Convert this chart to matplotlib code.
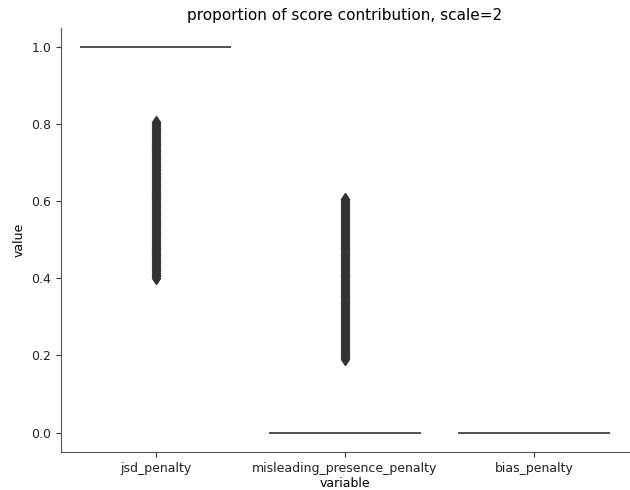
import matplotlib.pyplot as plt
import pandas as pd

# share of each penalty in the final score
variables = ["jsd_penalty", "misleading_presence_penalty", "bias_penalty"]

# most rows sit on a single value; the rest spread out as outliers
jsd_main = [1.0] * 400
jsd_spread = [0.400, 0.405, 0.410, 0.415, 0.420, 0.425, 0.430, 0.435, 0.440, 0.445,
              0.450, 0.455, 0.460, 0.465, 0.470, 0.475, 0.480, 0.485, 0.490, 0.495,
              0.500, 0.505, 0.510, 0.515, 0.520, 0.525, 0.530, 0.535, 0.540, 0.545,
              0.550, 0.555, 0.560, 0.565, 0.570, 0.575, 0.580, 0.585, 0.590, 0.595,
              0.600, 0.605, 0.610, 0.615, 0.620, 0.625, 0.630, 0.635, 0.640, 0.645,
              0.650, 0.655, 0.660, 0.665, 0.670, 0.675, 0.680, 0.685, 0.690, 0.695,
              0.700, 0.705, 0.710, 0.715, 0.720, 0.725, 0.730, 0.735, 0.740, 0.745,
              0.750, 0.755, 0.760, 0.765, 0.770, 0.775, 0.780, 0.785, 0.790, 0.795,
              0.800, 0.805]
misleading_main = [0.0] * 400
misleading_spread = [0.190, 0.195, 0.200, 0.205, 0.210, 0.215, 0.220, 0.225, 0.230, 0.235,
                     0.240, 0.245, 0.250, 0.255, 0.260, 0.265, 0.270, 0.275, 0.280, 0.285,
                     0.290, 0.295, 0.300, 0.305, 0.310, 0.315, 0.320, 0.325, 0.330, 0.335,
                     0.340, 0.345, 0.350, 0.355, 0.360, 0.365, 0.370, 0.375, 0.380, 0.385,
                     0.390, 0.395, 0.400, 0.405, 0.410, 0.415, 0.420, 0.425, 0.430, 0.435,
                     0.440, 0.445, 0.450, 0.455, 0.460, 0.465, 0.470, 0.475, 0.480, 0.485,
                     0.490, 0.495, 0.500, 0.505, 0.510, 0.515, 0.520, 0.525, 0.530, 0.535,
                     0.540, 0.545, 0.550, 0.555, 0.560, 0.565, 0.570, 0.575, 0.580, 0.585,
                     0.590, 0.595, 0.600, 0.605]
bias_main = [0.0] * 484

df = pd.DataFrame({
    "variable": (["jsd_penalty"] * (len(jsd_main) + len(jsd_spread))
                 + ["misleading_presence_penalty"] * (len(misleading_main) + len(misleading_spread))
                 + ["bias_penalty"] * len(bias_main)),
    "value": jsd_main + jsd_spread + misleading_main + misleading_spread + bias_main,
})

line_color = "#555555"
flier_color = "#333333"
groups = [df.loc[df["variable"] == v, "value"].values for v in variables]

fig = plt.figure(figsize=(6.3, 4.9), dpi=100)
ax = fig.add_axes([0.097, 0.078, 0.901, 0.865])
ax.boxplot(groups, positions=range(len(variables)), widths=0.8, patch_artist=True,
           boxprops=dict(facecolor="#4c72b0", edgecolor=line_color, linewidth=1.4),
           medianprops=dict(color=line_color, linewidth=1.4),
           whiskerprops=dict(color=line_color, linewidth=1.4),
           capprops=dict(color=line_color, linewidth=1.4),
           flierprops=dict(marker="d", markersize=6, markerfacecolor=flier_color,
                           markeredgecolor=flier_color))

ax.set_xlim(-0.5, 2.5)
ax.set_ylim(-0.05, 1.05)
ax.set_xticks(range(len(variables)))
ax.set_xticklabels(variables)
ax.set_yticks([0.0, 0.2, 0.4, 0.6, 0.8, 1.0])
ax.tick_params(labelsize=9, colors="#333333", labelcolor="#222222")
ax.set_xlabel("variable", fontsize=9, labelpad=2)
ax.set_ylabel("value", fontsize=9)
ax.set_title("proportion of score contribution, scale=2", fontsize=11)
ax.spines["top"].set_visible(False)
ax.spines["right"].set_visible(False)
for side in ["left", "bottom"]:
    ax.spines[side].set_color("#555555")

plt.savefig("out.png")
plt.close()
